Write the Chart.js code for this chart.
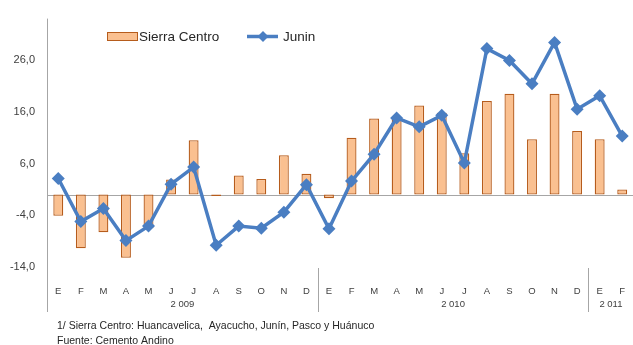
<!DOCTYPE html>
<html>
<head>
<meta charset="utf-8">
<script src="https://cdn.jsdelivr.net/npm/chart.js@4/dist/chart.umd.min.js"></script>
<style>
  html, body { margin: 0; padding: 0; background: #fff; overflow: hidden; }
  #wrap { position: relative; width: 640px; height: 345px; }
</style>
</head>
<body>
<div id="wrap"><canvas id="cementChart"></canvas></div>
<script>
const MONTHS = ["E", "F", "M", "A", "M", "J", "J", "A", "S", "O", "N", "D",
  "E", "F", "M", "A", "M", "J", "J", "A", "S", "O", "N", "D",
  "E", "F"];
const YEAR_LABELS = ["2 009", "2 010", "2 011"];
const YEAR_SIZES = [12, 12, 2];

const SIERRA_CENTRO = [-4.1, -10.4, -7.3, -12.2, -6.5, 2.9, 10.5, -0.3, 3.7, 3.0, 7.6, 4.0,
  -0.7, 11.0, 14.7, 15.0, 17.2, 15.8, 8.0, 18.1, 19.5, 10.7, 19.5, 12.3,
  10.7, 1.0];
const JUNIN = [3.1, -5.2, -2.7, -8.9, -6.1, 2.0, 5.3, -9.8, -6.1, -6.5, -3.4, 1.9,
  -6.6, 2.6, 7.8, 14.8, 13.1, 15.3, 6.1, 28.2, 25.9, 21.4, 29.4, 16.5,
  19.1, 11.3];

const Y_TICKS = [-14, -4, 6, 16, 26];
const Y_MIN = -14;
const Y_MAX = 34;

const FOOTNOTES = [
  "1/ Sierra Centro: Huancavelica,  Ayacucho, Junín, Pasco y Huánuco",
  "Fuente: Cemento Andino"
];

const BAR_FILL = "#FAC090";
const BAR_EDGE = "#B65C1C";
const LINE_BLUE = "#4A7EC2";
const AXIS_GREY = "#A6A6A6";
const TEXT_COLOR = "#404040";
const FONT = "'Liberation Sans', Arial, sans-serif";

// zero line, left axis line, year groups, legend and footnotes
const decorations = {
  id: "decorations",
  beforeDatasetsDraw(chart) {
    const { ctx, chartArea, scales } = chart;
    const y0 = Math.round(scales.y.getPixelForValue(0)) + 0.5;
    ctx.save();
    ctx.strokeStyle = AXIS_GREY;
    ctx.lineWidth = 1;
    ctx.beginPath();
    ctx.moveTo(chartArea.left, y0);
    ctx.lineTo(chartArea.right, y0);
    ctx.stroke();
    ctx.restore();
  },
  afterDraw(chart) {
    const { ctx, chartArea, scales } = chart;
    const x = scales.x;
    const step = x.getPixelForValue(1) - x.getPixelForValue(0);
    const bottom = 312;

    ctx.save();
    ctx.strokeStyle = AXIS_GREY;
    ctx.lineWidth = 1;

    // left axis
    const lx = Math.round(chartArea.left) + 0.5;
    ctx.beginPath();
    ctx.moveTo(lx, chartArea.top);
    ctx.lineTo(lx, bottom);
    ctx.stroke();

    // year groups
    ctx.fillStyle = TEXT_COLOR;
    ctx.font = "9.5px " + FONT;
    ctx.textAlign = "center";
    ctx.textBaseline = "middle";
    let start = 0;
    YEAR_LABELS.forEach((label, i) => {
      const end = start + YEAR_SIZES[i];
      const left = x.getPixelForValue(start) - step / 2;
      const right = x.getPixelForValue(end - 1) + step / 2;
      if (i > 0) {
        const sx = Math.round(left) + 0.5;
        ctx.beginPath();
        ctx.moveTo(sx, chartArea.bottom + 1);
        ctx.lineTo(sx, bottom);
        ctx.stroke();
      }
      ctx.fillText(label, (left + right) / 2, 304);
      start = end;
    });

    // legend
    ctx.fillStyle = BAR_FILL;
    ctx.fillRect(107, 32, 30, 8);
    ctx.strokeStyle = BAR_EDGE;
    ctx.strokeRect(107.5, 32.5, 30, 8);

    ctx.strokeStyle = LINE_BLUE;
    ctx.lineWidth = 3.5;
    ctx.beginPath();
    ctx.moveTo(247, 36.5);
    ctx.lineTo(278, 36.5);
    ctx.stroke();
    ctx.fillStyle = LINE_BLUE;
    ctx.beginPath();
    ctx.moveTo(263, 31);
    ctx.lineTo(268.5, 36.5);
    ctx.lineTo(263, 42);
    ctx.lineTo(257.5, 36.5);
    ctx.closePath();
    ctx.fill();

    ctx.fillStyle = "#262626";
    ctx.font = "13.5px " + FONT;
    ctx.textAlign = "left";
    ctx.fillText("Sierra Centro", 139, 37);
    ctx.fillText("Junin", 283, 37);

    // footnotes
    ctx.font = "10.5px " + FONT;
    ctx.fillStyle = "#262626";
    ctx.fillText(FOOTNOTES[0], 57, 326);
    ctx.fillText(FOOTNOTES[1], 57, 341);
    ctx.restore();
  }
};

new Chart(document.getElementById("cementChart"), {
  type: "bar",
  data: {
    labels: MONTHS,
    datasets: [
      {
        type: "line",
        label: "Junin",
        data: JUNIN,
        borderColor: LINE_BLUE,
        backgroundColor: LINE_BLUE,
        borderWidth: 3.5,
        tension: 0,
        pointStyle: "rectRot",
        pointRadius: 6.5,
        pointBorderWidth: 0,
        pointBackgroundColor: LINE_BLUE,
        order: 0
      },
      {
        label: "Sierra Centro",
        data: SIERRA_CENTRO,
        backgroundColor: BAR_FILL,
        borderColor: BAR_EDGE,
        borderWidth: 1.3,
        borderSkipped: false,
        categoryPercentage: 1,
        barPercentage: 0.44,
        order: 1
      }
    ]
  },
  plugins: [decorations],
  options: {
    responsive: true,
    maintainAspectRatio: false,
    animation: false,
    layout: { padding: { top: 16, right: 2, left: 0, bottom: 0 } },
    plugins: {
      legend: { display: false },
      tooltip: { enabled: false }
    },
    scales: {
      x: {
        grid: { display: false },
        border: { display: false },
        ticks: {
          autoSkip: false,
          maxRotation: 0,
          padding: 11,
          color: TEXT_COLOR,
          font: { size: 9.5, family: FONT }
        },
        afterFit(scale) { scale.height = 78; }
      },
      y: {
        min: Y_MIN,
        max: Y_MAX,
        grid: { display: false, drawTicks: false },
        border: { display: false },
        afterBuildTicks(scale) {
          scale.ticks = Y_TICKS.map((v) => ({ value: v }));
        },
        ticks: {
          padding: 12,
          color: TEXT_COLOR,
          font: { size: 11, family: FONT },
          callback: (v) => v.toFixed(1).replace(".", ",")
        },
        afterFit(scale) { scale.width = 47; }
      }
    }
  }
});
</script>
</body>
</html>
